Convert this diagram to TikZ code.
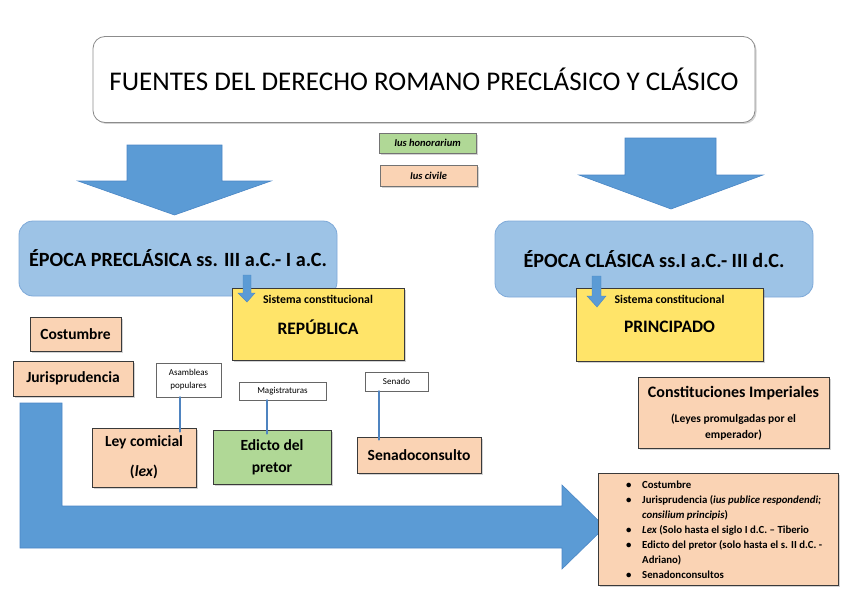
\documentclass[tikz,border=0pt]{standalone}
\usepackage{fontspec}
\setmainfont{Carlito}
\usetikzlibrary{shadows,calc}
\definecolor{arrowblue}{HTML}{5B9BD5}
\definecolor{arrowedge}{HTML}{4A86C5}
\definecolor{epocafill}{HTML}{9DC3E6}
\definecolor{epocaedge}{HTML}{7EA9D8}
\definecolor{yellowfill}{HTML}{FFE469}
\definecolor{peachfill}{HTML}{FAD3B4}
\definecolor{greenfill}{HTML}{B0D896}
\definecolor{boxedge}{HTML}{3A3A3A}
\definecolor{connblue}{HTML}{4F84C0}
\begin{document}
\begin{tikzpicture}[x=1pt,y=-1pt,
  shad/.style={drop shadow={opacity=0.35,shadow xshift=1.5pt,shadow yshift=-1.5pt}},
  titlebox/.style={draw=black!45,line width=0.8pt,fill=white,rounded corners=12pt,inner sep=0pt,shad},
  epoca/.style={draw=epocaedge,line width=0.8pt,fill=epocafill,rounded corners=14pt,inner sep=0pt},
  ybox/.style={draw=boxedge,line width=1pt,fill=yellowfill,inner sep=0pt,shad},
  pbox/.style={draw=boxedge,line width=1pt,fill=peachfill,inner sep=0pt,align=center,shad},
  gbox/.style={draw=boxedge,line width=1pt,fill=greenfill,inner sep=0pt,align=center,shad},
  smallp/.style={draw=black!55,line width=0.6pt,fill=peachfill,inner sep=0pt,font=\fontsize{10.5}{12}\selectfont\bfseries\itshape,shad},
  smallg/.style={draw=black!55,line width=0.6pt,fill=greenfill,inner sep=0pt,font=\fontsize{10.5}{12}\selectfont\bfseries\itshape,shad},
  wbox/.style={draw=black!60,line width=0.7pt,fill=white,inner sep=0pt,align=center,font=\fontsize{9}{13}\selectfont},
  bigarrow/.style={fill=arrowblue,draw=arrowedge,line width=0.6pt},
  conn/.style={draw=connblue,line width=2.5pt,line cap=round},
  lbl/.style={inner sep=0pt,font=\bfseries},
]
\useasboundingbox (0,0) rectangle (848,599);

% title
\node[titlebox,minimum width=662,minimum height=86,font=\fontsize{27}{32}\selectfont] (title) at (424,79.5) {FUENTES DEL DERECHO ROMANO PRECLÁSICO Y CLÁSICO};

% legend
\node[smallg,minimum width=97,minimum height=20] (ihon) at (427.5,143) {Ius honorarium};
\node[smallp,minimum width=97,minimum height=21] (iciv) at (428.5,175.5) {Ius civile};

% big down arrows
\draw[bigarrow] (127,145) -- (222,145) -- (222,181) -- (271,181) -- (174.5,215) -- (78,181) -- (127,181) -- cycle;
\draw[bigarrow] (625,138) -- (716,138) -- (716,175) -- (763,175) -- (671,209) -- (579,175) -- (625,175) -- cycle;

% epoch boxes
\node[epoca,minimum width=318,minimum height=75,font=\fontsize{20.2}{23}\selectfont\bfseries] (pre) at (178,258.5) {ÉPOCA PRECLÁSICA ss. III a.C.- I a.C.};
\node[epoca,minimum width=318,minimum height=76,font=\fontsize{20.2}{23}\selectfont\bfseries] (cla) at (654,259) {ÉPOCA CLÁSICA ss.I a.C.- III d.C.};

% constitutional systems
\node[ybox,minimum width=172,minimum height=72] (rep) at (318,324) {};
\node[lbl,font=\fontsize{11.8}{13}\selectfont\bfseries] (repsc) at (318,299) {Sistema constitucional};
\node[lbl,font=\fontsize{17.5}{20}\selectfont\bfseries] (reptx) at (318,327) {REPÚBLICA};
\node[ybox,minimum width=187,minimum height=73] (pri) at (669.5,324.5) {};
\node[lbl,font=\fontsize{11.8}{13}\selectfont\bfseries] (prisc) at (669.5,299) {Sistema constitucional};
\node[lbl,font=\fontsize{17.5}{20}\selectfont\bfseries] (pritx) at (669.5,327) {PRINCIPADO};

% small arrows
\draw[bigarrow,line width=0.4pt] (243,275) -- (251,275) -- (251,293) -- (255,293) -- (247,302) -- (238,293) -- (243,293) -- cycle;
\draw[bigarrow,line width=0.4pt] (592,276) -- (601,276) -- (601,296) -- (606,296) -- (597,307) -- (587,296) -- (592,296) -- cycle;

% bent arrow
\draw[bigarrow] (20,403) -- (62,403) -- (62,506) -- (562,506) -- (562,485) -- (605,527) -- (562,569) -- (562,548) -- (20,548) -- cycle;

% sources
\node[pbox,minimum width=91,minimum height=34,font=\fontsize{15.5}{18}\selectfont\bfseries] (cos) at (75.5,334) {Costumbre};
\node[pbox,minimum width=120,minimum height=35,font=\fontsize{15.5}{18}\selectfont\bfseries] (jur) at (73,378.5) {Jurisprudencia};

\node[wbox,minimum width=65,minimum height=34] (asam) at (188.5,380) {Asambleas\\populares};
\node[wbox,minimum width=87,minimum height=18] (mag) at (282.5,391) {Magistraturas};
\node[wbox,minimum width=63,minimum height=19] (sen) at (396.5,381.5) {Senado};

\node[pbox,minimum width=104,minimum height=59,font=\fontsize{15.5}{30}\selectfont\bfseries] (ley) at (144,457.5) {Ley comicial\\(\textit{lex})};
\node[gbox,minimum width=118,minimum height=54,font=\fontsize{15.5}{22}\selectfont\bfseries] (edi) at (272,457) {Edicto del\\pretor};
\node[pbox,minimum width=124,minimum height=36,font=\fontsize{15.5}{18}\selectfont\bfseries] (senc) at (419,455) {Senadoconsulto};

\draw[conn] ($(asam.south)+(-8.5,0)$) -- ($(asam.south |- ley.north)+(-8.5,4)$);
\draw[conn] ($(mag.south)+(-15.5,0)$) -- ($(mag.south |- edi.north)+(-15.5,4)$);
\draw[conn] ($(sen.south)+(-17.5,0)$) -- ($(sen.south |- senc.north)+(-17.5,3)$);

% constituciones imperiales
\node[pbox,minimum width=191,minimum height=71] (cons) at (733.5,412.5) {};
\node[lbl,font=\fontsize{16}{18}\selectfont\bfseries] (constx) at (733.5,393) {Constituciones Imperiales};
\node[lbl,align=center,font=\fontsize{11.5}{16}\selectfont\bfseries] (conssub) at (733.5,427) {(Leyes promulgadas por el\\emperador)};

% list box
\node[pbox,minimum width=240,minimum height=112] (lst) at (718,529) {};
\node[lbl,anchor=north west,align=left,font=\fontsize{10.8}{15}\selectfont\bfseries] (lsttx) at (626,480.5) {%
\makebox[16pt][l]{\textbullet}Costumbre\\
\makebox[16pt][l]{\textbullet}Jurisprudencia (\textit{ius publice respondendi;}\\
\hspace*{16pt}\textit{consilium principis})\\
\makebox[16pt][l]{\textbullet}\textit{Lex} (Solo hasta el siglo I d.C. – Tiberio\\
\makebox[16pt][l]{\textbullet}Edicto del pretor (solo hasta el s. II d.C. -\\
\hspace*{16pt}Adriano)\\
\makebox[16pt][l]{\textbullet}Senadonconsultos};
\end{tikzpicture}
\end{document}
